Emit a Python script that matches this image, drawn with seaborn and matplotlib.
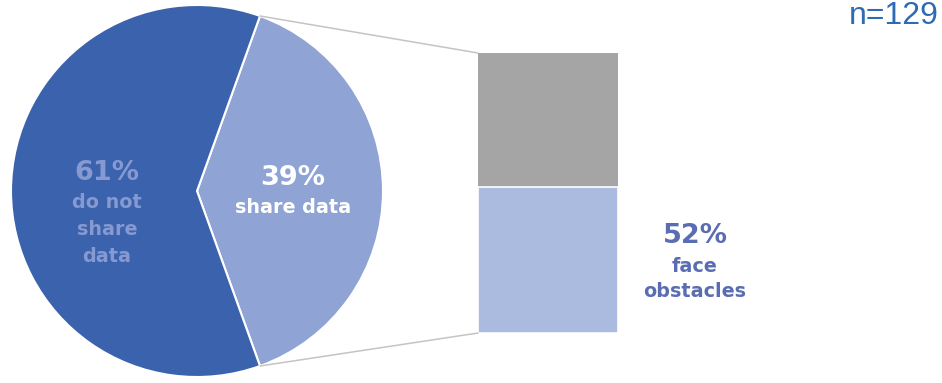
import matplotlib
matplotlib.use("Agg")
import matplotlib.pyplot as plt
import seaborn as sns
import numpy as np
from matplotlib.patches import ConnectionPatch

# ---- data ----
pie_labels = ["share data", "do not share data"]
pie_values = [39, 61]
bar_category = ["share data"]
bar_total = [100]
bar_obstacles = [52]
sample_label = "n=129"

# ---- style ----
sns.set_theme(style="white")
plt.rcParams["font.family"] = ["DejaVu Sans"]

C_DARK = "#3A62AD"
C_LIGHT = "#8FA3D4"
C_GRAY = "#A5A5A5"
C_BARBLUE = "#AABBDF"
C_TXT61 = "#8699D0"
C_TXT52 = "#5A6DB2"
C_N = "#2E6BB5"

W, H = 942, 383
fig = plt.figure(figsize=(W / 100, H / 100), dpi=100)

# pie axes: centre (197,191) px, radius 186 px
cx, cy, r = 197, 191, 186
ax_pie = fig.add_axes([(cx - r) / W, (H - cy - r) / H, 2 * r / W, 2 * r / H])
start = -pie_values[0] / 100 * 180
wedges, _ = ax_pie.pie(pie_values, colors=[C_LIGHT, C_DARK], startangle=start,
                       counterclock=True, radius=1,
                       wedgeprops=dict(edgecolor="white", linewidth=1.5))
ax_pie.set_xlim(-1, 1)
ax_pie.set_ylim(-1, 1)
ax_pie.set_aspect("equal")
ax_pie.axis("off")

def px(xp, yp):
    return (xp - cx) / r, (cy - yp) / r

big = 19.5
small = 13.8
tx, ty = px(107, 180)
ax_pie.text(tx, ty, f"{pie_values[1]}%", ha="center", va="baseline", fontsize=big,
            fontweight="bold", color=C_TXT61)
for word, yb in zip(["do not", "share", "data"], [208, 235, 262]):
    tx, ty = px(107, yb)
    ax_pie.text(tx, ty, word, ha="center", va="baseline", fontsize=small,
                fontweight="bold", color=C_TXT61)
tx, ty = px(293, 185)
ax_pie.text(tx, ty, f"{pie_values[0]}%", ha="center", va="baseline", fontsize=big,
            fontweight="bold", color="white")
tx, ty = px(293, 213)
ax_pie.text(tx, ty, pie_labels[0], ha="center", va="baseline", fontsize=small,
            fontweight="bold", color="white")

# bar axes: x 478-618, y 53-333 px
bx0, bx1, by0, by1 = 478, 618, 53, 333
ax_bar = fig.add_axes([bx0 / W, (H - by1) / H, (bx1 - bx0) / W, (by1 - by0) / H])
sns.barplot(x=bar_category, y=bar_total, color=C_GRAY, saturation=1, width=1,
            ax=ax_bar, edgecolor="white", linewidth=0)
sns.barplot(x=bar_category, y=bar_obstacles, color=C_BARBLUE, saturation=1, width=1,
            ax=ax_bar, edgecolor="white", linewidth=1.2)
ax_bar.set_xlim(-0.5, 0.5)
ax_bar.set_ylim(0, 100)
ax_bar.axis("off")

# connector lines from the pie slice edges to the bar corners
theta1 = np.deg2rad(start + pie_values[0] / 100 * 360)
theta0 = np.deg2rad(start)
for th, yb in [(theta1, bar_total[0]), (theta0, 0)]:
    con = ConnectionPatch(xyA=(np.cos(th), np.sin(th)), coordsA=ax_pie.transData,
                          xyB=(-0.5, yb), coordsB=ax_bar.transData,
                          color="#C4C4C4", linewidth=1.1)
    fig.add_artist(con)

# label for bar
fig.text(695 / W, 1 - 243 / H, f"{bar_obstacles[0]}%", ha="center", va="baseline",
         fontsize=big, fontweight="bold", color=C_TXT52)
fig.text(695 / W, 1 - 272 / H, "face", ha="center", va="baseline",
         fontsize=small, fontweight="bold", color=C_TXT52)
fig.text(695 / W, 1 - 297 / H, "obstacles", ha="center", va="baseline",
         fontsize=small, fontweight="bold", color=C_TXT52)

fig.text(939 / W, 1 - 24 / H, sample_label, ha="right", va="baseline",
         fontsize=23, family=["Liberation Sans", "DejaVu Sans"], color=C_N)

fig.savefig("out.png", dpi=100)
